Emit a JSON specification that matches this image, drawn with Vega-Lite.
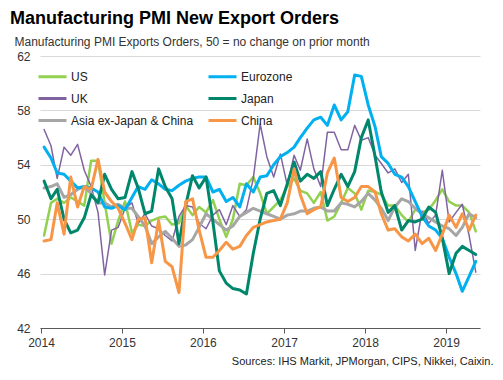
{
  "$schema": "https://vega.github.io/schema/vega-lite/v6.json",
  "width": 440,
  "height": 272,
  "autosize": {"type": "none"},
  "padding": {"left": 40, "top": 56, "right": 23, "bottom": 52},
  "config": {"font": "Liberation Sans", "view": {"stroke": null}},
  "title": {"text": "Manufacturing PMI New Export Orders", "anchor": "start", "frame": "group", "fontSize": 18, "fontWeight": "bold", "color": "#000000", "dx": -30, "dy": 19, "offset": 12, "baseline": "alphabetic"},
  "data": {"values": [
{"d":"2014-01-15","s":"US","v":48.8},{"d":"2014-02-15","s":"US","v":51.2},{"d":"2014-03-15","s":"US","v":51.5},{"d":"2014-04-15","s":"US","v":51.2},{"d":"2014-05-15","s":"US","v":51.6},{"d":"2014-06-15","s":"US","v":51.3},{"d":"2014-07-15","s":"US","v":51.0},{"d":"2014-08-15","s":"US","v":54.3},{"d":"2014-09-15","s":"US","v":54.3},{"d":"2014-10-15","s":"US","v":51.2},{"d":"2014-11-15","s":"US","v":48.2},{"d":"2014-12-15","s":"US","v":49.9},
{"d":"2015-01-15","s":"US","v":51.3},{"d":"2015-02-15","s":"US","v":49.0},{"d":"2015-03-15","s":"US","v":49.6},{"d":"2015-04-15","s":"US","v":49.5},{"d":"2015-05-15","s":"US","v":49.9},{"d":"2015-06-15","s":"US","v":50.1},{"d":"2015-07-15","s":"US","v":50.2},{"d":"2015-08-15","s":"US","v":49.6},{"d":"2015-09-15","s":"US","v":49.7},{"d":"2015-10-15","s":"US","v":51.0},{"d":"2015-11-15","s":"US","v":50.3},{"d":"2015-12-15","s":"US","v":50.9},
{"d":"2016-01-15","s":"US","v":50.5},{"d":"2016-02-15","s":"US","v":51.4},{"d":"2016-03-15","s":"US","v":50.0},{"d":"2016-04-15","s":"US","v":48.7},{"d":"2016-05-15","s":"US","v":50.0},{"d":"2016-06-15","s":"US","v":52.6},{"d":"2016-07-15","s":"US","v":52.5},{"d":"2016-08-15","s":"US","v":53.1},{"d":"2016-09-15","s":"US","v":51.9},{"d":"2016-10-15","s":"US","v":50.4},{"d":"2016-11-15","s":"US","v":50.9},{"d":"2016-12-15","s":"US","v":51.4},
{"d":"2017-01-15","s":"US","v":52.4},{"d":"2017-02-15","s":"US","v":53.0},{"d":"2017-03-15","s":"US","v":52.1},{"d":"2017-04-15","s":"US","v":51.9},{"d":"2017-05-15","s":"US","v":51.2},{"d":"2017-06-15","s":"US","v":52.0},{"d":"2017-07-15","s":"US","v":49.9},{"d":"2017-08-15","s":"US","v":50.2},{"d":"2017-09-15","s":"US","v":51.2},{"d":"2017-10-15","s":"US","v":52.3},{"d":"2017-11-15","s":"US","v":51.9},{"d":"2017-12-15","s":"US","v":50.7},
{"d":"2018-01-15","s":"US","v":52.1},{"d":"2018-02-15","s":"US","v":52.0},{"d":"2018-03-15","s":"US","v":51.8},{"d":"2018-04-15","s":"US","v":51.0},{"d":"2018-05-15","s":"US","v":51.0},{"d":"2018-06-15","s":"US","v":50.3},{"d":"2018-07-15","s":"US","v":49.8},{"d":"2018-08-15","s":"US","v":50.7},{"d":"2018-09-15","s":"US","v":50.5},{"d":"2018-10-15","s":"US","v":50.7},{"d":"2018-11-15","s":"US","v":51.4},{"d":"2018-12-15","s":"US","v":52.2},
{"d":"2019-01-15","s":"US","v":51.3},{"d":"2019-02-15","s":"US","v":51.0},{"d":"2019-03-15","s":"US","v":51.0},{"d":"2019-04-15","s":"US","v":50.5},{"d":"2019-05-15","s":"US","v":49.1},
{"d":"2014-01-15","s":"UK","v":56.6},{"d":"2014-02-15","s":"UK","v":55.4},{"d":"2014-03-15","s":"UK","v":53.0},{"d":"2014-04-15","s":"UK","v":55.3},{"d":"2014-05-15","s":"UK","v":54.7},{"d":"2014-06-15","s":"UK","v":55.5},{"d":"2014-07-15","s":"UK","v":53.6},{"d":"2014-08-15","s":"UK","v":52.4},{"d":"2014-09-15","s":"UK","v":50.5},{"d":"2014-10-15","s":"UK","v":45.9},{"d":"2014-11-15","s":"UK","v":49.2},{"d":"2014-12-15","s":"UK","v":49.4},
{"d":"2015-01-15","s":"UK","v":50.8},{"d":"2015-02-15","s":"UK","v":51.2},{"d":"2015-03-15","s":"UK","v":49.7},{"d":"2015-04-15","s":"UK","v":50.4},{"d":"2015-05-15","s":"UK","v":49.5},{"d":"2015-06-15","s":"UK","v":49.3},{"d":"2015-07-15","s":"UK","v":48.8},{"d":"2015-08-15","s":"UK","v":48.4},{"d":"2015-09-15","s":"UK","v":50.2},{"d":"2015-10-15","s":"UK","v":51.0},{"d":"2015-11-15","s":"UK","v":50.9},{"d":"2015-12-15","s":"UK","v":49.7},
{"d":"2016-01-15","s":"UK","v":49.3},{"d":"2016-02-15","s":"UK","v":50.3},{"d":"2016-03-15","s":"UK","v":50.7},{"d":"2016-04-15","s":"UK","v":49.6},{"d":"2016-05-15","s":"UK","v":51.0},{"d":"2016-06-15","s":"UK","v":50.2},{"d":"2016-07-15","s":"UK","v":50.7},{"d":"2016-08-15","s":"UK","v":53.0},{"d":"2016-09-15","s":"UK","v":57.0},{"d":"2016-10-15","s":"UK","v":54.6},{"d":"2016-11-15","s":"UK","v":53.1},{"d":"2016-12-15","s":"UK","v":54.8},
{"d":"2017-01-15","s":"UK","v":52.5},{"d":"2017-02-15","s":"UK","v":54.7},{"d":"2017-03-15","s":"UK","v":53.6},{"d":"2017-04-15","s":"UK","v":55.9},{"d":"2017-05-15","s":"UK","v":53.7},{"d":"2017-06-15","s":"UK","v":52.4},{"d":"2017-07-15","s":"UK","v":56.4},{"d":"2017-08-15","s":"UK","v":56.4},{"d":"2017-09-15","s":"UK","v":55.1},{"d":"2017-10-15","s":"UK","v":55.1},{"d":"2017-11-15","s":"UK","v":56.9},{"d":"2017-12-15","s":"UK","v":55.8},
{"d":"2018-01-15","s":"UK","v":56.0},{"d":"2018-02-15","s":"UK","v":54.7},{"d":"2018-03-15","s":"UK","v":54.1},{"d":"2018-04-15","s":"UK","v":53.4},{"d":"2018-05-15","s":"UK","v":53.7},{"d":"2018-06-15","s":"UK","v":52.7},{"d":"2018-07-15","s":"UK","v":53.3},{"d":"2018-08-15","s":"UK","v":47.7},{"d":"2018-09-15","s":"UK","v":50.6},{"d":"2018-10-15","s":"UK","v":49.7},{"d":"2018-11-15","s":"UK","v":50.3},{"d":"2018-12-15","s":"UK","v":53.6},
{"d":"2019-01-15","s":"UK","v":49.8},{"d":"2019-02-15","s":"UK","v":50.5},{"d":"2019-03-15","s":"UK","v":51.1},{"d":"2019-04-15","s":"UK","v":48.8},{"d":"2019-05-15","s":"UK","v":46.1},
{"d":"2014-01-15","s":"Asia ex-Japan & China","v":52.3},{"d":"2014-02-15","s":"Asia ex-Japan & China","v":52.4},{"d":"2014-03-15","s":"Asia ex-Japan & China","v":52.6},{"d":"2014-04-15","s":"Asia ex-Japan & China","v":51.6},{"d":"2014-05-15","s":"Asia ex-Japan & China","v":51.8},{"d":"2014-06-15","s":"Asia ex-Japan & China","v":52.2},{"d":"2014-07-15","s":"Asia ex-Japan & China","v":52.4},{"d":"2014-08-15","s":"Asia ex-Japan & China","v":51.9},{"d":"2014-09-15","s":"Asia ex-Japan & China","v":51.2},{"d":"2014-10-15","s":"Asia ex-Japan & China","v":51.2},{"d":"2014-11-15","s":"Asia ex-Japan & China","v":50.9},{"d":"2014-12-15","s":"Asia ex-Japan & China","v":51.1},
{"d":"2015-01-15","s":"Asia ex-Japan & China","v":50.8},{"d":"2015-02-15","s":"Asia ex-Japan & China","v":50.8},{"d":"2015-03-15","s":"Asia ex-Japan & China","v":50.2},{"d":"2015-04-15","s":"Asia ex-Japan & China","v":49.5},{"d":"2015-05-15","s":"Asia ex-Japan & China","v":48.2},{"d":"2015-06-15","s":"Asia ex-Japan & China","v":48.7},{"d":"2015-07-15","s":"Asia ex-Japan & China","v":49.1},{"d":"2015-08-15","s":"Asia ex-Japan & China","v":48.6},{"d":"2015-09-15","s":"Asia ex-Japan & China","v":48.0},{"d":"2015-10-15","s":"Asia ex-Japan & China","v":48.1},{"d":"2015-11-15","s":"Asia ex-Japan & China","v":48.5},{"d":"2015-12-15","s":"Asia ex-Japan & China","v":49.4},
{"d":"2016-01-15","s":"Asia ex-Japan & China","v":50.4},{"d":"2016-02-15","s":"Asia ex-Japan & China","v":50.0},{"d":"2016-03-15","s":"Asia ex-Japan & China","v":49.6},{"d":"2016-04-15","s":"Asia ex-Japan & China","v":49.2},{"d":"2016-05-15","s":"Asia ex-Japan & China","v":49.5},{"d":"2016-06-15","s":"Asia ex-Japan & China","v":50.2},{"d":"2016-07-15","s":"Asia ex-Japan & China","v":50.5},{"d":"2016-08-15","s":"Asia ex-Japan & China","v":50.8},{"d":"2016-09-15","s":"Asia ex-Japan & China","v":50.6},{"d":"2016-10-15","s":"Asia ex-Japan & China","v":50.4},{"d":"2016-11-15","s":"Asia ex-Japan & China","v":50.2},{"d":"2016-12-15","s":"Asia ex-Japan & China","v":50.0},
{"d":"2017-01-15","s":"Asia ex-Japan & China","v":50.3},{"d":"2017-02-15","s":"Asia ex-Japan & China","v":50.4},{"d":"2017-03-15","s":"Asia ex-Japan & China","v":50.6},{"d":"2017-04-15","s":"Asia ex-Japan & China","v":50.6},{"d":"2017-05-15","s":"Asia ex-Japan & China","v":50.8},{"d":"2017-06-15","s":"Asia ex-Japan & China","v":50.9},{"d":"2017-07-15","s":"Asia ex-Japan & China","v":50.6},{"d":"2017-08-15","s":"Asia ex-Japan & China","v":50.6},{"d":"2017-09-15","s":"Asia ex-Japan & China","v":51.2},{"d":"2017-10-15","s":"Asia ex-Japan & China","v":51.1},{"d":"2017-11-15","s":"Asia ex-Japan & China","v":50.9},{"d":"2017-12-15","s":"Asia ex-Japan & China","v":51.3},
{"d":"2018-01-15","s":"Asia ex-Japan & China","v":51.9},{"d":"2018-02-15","s":"Asia ex-Japan & China","v":51.4},{"d":"2018-03-15","s":"Asia ex-Japan & China","v":50.8},{"d":"2018-04-15","s":"Asia ex-Japan & China","v":49.9},{"d":"2018-05-15","s":"Asia ex-Japan & China","v":50.9},{"d":"2018-06-15","s":"Asia ex-Japan & China","v":51.5},{"d":"2018-07-15","s":"Asia ex-Japan & China","v":51.3},{"d":"2018-08-15","s":"Asia ex-Japan & China","v":50.8},{"d":"2018-09-15","s":"Asia ex-Japan & China","v":50.4},{"d":"2018-10-15","s":"Asia ex-Japan & China","v":50.1},{"d":"2018-11-15","s":"Asia ex-Japan & China","v":49.8},{"d":"2018-12-15","s":"Asia ex-Japan & China","v":49.5},
{"d":"2019-01-15","s":"Asia ex-Japan & China","v":49.3},{"d":"2019-02-15","s":"Asia ex-Japan & China","v":48.8},{"d":"2019-03-15","s":"Asia ex-Japan & China","v":49.4},{"d":"2019-04-15","s":"Asia ex-Japan & China","v":50.4},{"d":"2019-05-15","s":"Asia ex-Japan & China","v":50.1},
{"d":"2014-01-15","s":"Eurozone","v":55.3},{"d":"2014-02-15","s":"Eurozone","v":54.5},{"d":"2014-03-15","s":"Eurozone","v":53.4},{"d":"2014-04-15","s":"Eurozone","v":53.3},{"d":"2014-05-15","s":"Eurozone","v":52.8},{"d":"2014-06-15","s":"Eurozone","v":52.3},{"d":"2014-07-15","s":"Eurozone","v":52.4},{"d":"2014-08-15","s":"Eurozone","v":52.3},{"d":"2014-09-15","s":"Eurozone","v":52.0},{"d":"2014-10-15","s":"Eurozone","v":50.9},{"d":"2014-11-15","s":"Eurozone","v":50.8},{"d":"2014-12-15","s":"Eurozone","v":51.0},
{"d":"2015-01-15","s":"Eurozone","v":50.7},{"d":"2015-02-15","s":"Eurozone","v":51.6},{"d":"2015-03-15","s":"Eurozone","v":52.4},{"d":"2015-04-15","s":"Eurozone","v":52.2},{"d":"2015-05-15","s":"Eurozone","v":52.9},{"d":"2015-06-15","s":"Eurozone","v":52.6},{"d":"2015-07-15","s":"Eurozone","v":52.2},{"d":"2015-08-15","s":"Eurozone","v":52.1},{"d":"2015-09-15","s":"Eurozone","v":52.5},{"d":"2015-10-15","s":"Eurozone","v":52.8},{"d":"2015-11-15","s":"Eurozone","v":53.0},{"d":"2015-12-15","s":"Eurozone","v":53.1},
{"d":"2016-01-15","s":"Eurozone","v":53.1},{"d":"2016-02-15","s":"Eurozone","v":52.0},{"d":"2016-03-15","s":"Eurozone","v":52.2},{"d":"2016-04-15","s":"Eurozone","v":51.3},{"d":"2016-05-15","s":"Eurozone","v":51.6},{"d":"2016-06-15","s":"Eurozone","v":50.9},{"d":"2016-07-15","s":"Eurozone","v":52.6},{"d":"2016-08-15","s":"Eurozone","v":52.0},{"d":"2016-09-15","s":"Eurozone","v":53.1},{"d":"2016-10-15","s":"Eurozone","v":53.2},{"d":"2016-11-15","s":"Eurozone","v":54.0},{"d":"2016-12-15","s":"Eurozone","v":54.6},
{"d":"2017-01-15","s":"Eurozone","v":54.9},{"d":"2017-02-15","s":"Eurozone","v":55.3},{"d":"2017-03-15","s":"Eurozone","v":56.0},{"d":"2017-04-15","s":"Eurozone","v":56.7},{"d":"2017-05-15","s":"Eurozone","v":57.3},{"d":"2017-06-15","s":"Eurozone","v":57.5},{"d":"2017-07-15","s":"Eurozone","v":56.9},{"d":"2017-08-15","s":"Eurozone","v":58.4},{"d":"2017-09-15","s":"Eurozone","v":57.3},{"d":"2017-10-15","s":"Eurozone","v":57.9},{"d":"2017-11-15","s":"Eurozone","v":60.6},{"d":"2017-12-15","s":"Eurozone","v":60.5},
{"d":"2018-01-15","s":"Eurozone","v":58.4},{"d":"2018-02-15","s":"Eurozone","v":56.8},{"d":"2018-03-15","s":"Eurozone","v":54.6},{"d":"2018-04-15","s":"Eurozone","v":54.1},{"d":"2018-05-15","s":"Eurozone","v":53.3},{"d":"2018-06-15","s":"Eurozone","v":53.1},{"d":"2018-07-15","s":"Eurozone","v":52.4},{"d":"2018-08-15","s":"Eurozone","v":51.3},{"d":"2018-09-15","s":"Eurozone","v":50.2},{"d":"2018-10-15","s":"Eurozone","v":49.5},{"d":"2018-11-15","s":"Eurozone","v":49.2},{"d":"2018-12-15","s":"Eurozone","v":48.6},
{"d":"2019-01-15","s":"Eurozone","v":47.2},{"d":"2019-02-15","s":"Eurozone","v":46.0},{"d":"2019-03-15","s":"Eurozone","v":44.7},{"d":"2019-04-15","s":"Eurozone","v":45.8},{"d":"2019-05-15","s":"Eurozone","v":46.9},
{"d":"2014-01-15","s":"Japan","v":52.8},{"d":"2014-02-15","s":"Japan","v":51.5},{"d":"2014-03-15","s":"Japan","v":52.2},{"d":"2014-04-15","s":"Japan","v":50.0},{"d":"2014-05-15","s":"Japan","v":49.0},{"d":"2014-06-15","s":"Japan","v":49.2},{"d":"2014-07-15","s":"Japan","v":50.1},{"d":"2014-08-15","s":"Japan","v":51.8},{"d":"2014-09-15","s":"Japan","v":51.2},{"d":"2014-10-15","s":"Japan","v":53.3},{"d":"2014-11-15","s":"Japan","v":52.2},{"d":"2014-12-15","s":"Japan","v":51.5},
{"d":"2015-01-15","s":"Japan","v":51.6},{"d":"2015-02-15","s":"Japan","v":53.5},{"d":"2015-03-15","s":"Japan","v":52.3},{"d":"2015-04-15","s":"Japan","v":50.4},{"d":"2015-05-15","s":"Japan","v":50.6},{"d":"2015-06-15","s":"Japan","v":53.7},{"d":"2015-07-15","s":"Japan","v":52.4},{"d":"2015-08-15","s":"Japan","v":51.5},{"d":"2015-09-15","s":"Japan","v":48.2},{"d":"2015-10-15","s":"Japan","v":51.0},{"d":"2015-11-15","s":"Japan","v":53.2},{"d":"2015-12-15","s":"Japan","v":52.3},
{"d":"2016-01-15","s":"Japan","v":53.1},{"d":"2016-02-15","s":"Japan","v":49.8},{"d":"2016-03-15","s":"Japan","v":46.2},{"d":"2016-04-15","s":"Japan","v":45.3},{"d":"2016-05-15","s":"Japan","v":44.9},{"d":"2016-06-15","s":"Japan","v":44.8},{"d":"2016-07-15","s":"Japan","v":44.5},{"d":"2016-08-15","s":"Japan","v":47.5},{"d":"2016-09-15","s":"Japan","v":50.0},{"d":"2016-10-15","s":"Japan","v":51.9},{"d":"2016-11-15","s":"Japan","v":52.1},{"d":"2016-12-15","s":"Japan","v":51.0},
{"d":"2017-01-15","s":"Japan","v":52.6},{"d":"2017-02-15","s":"Japan","v":54.2},{"d":"2017-03-15","s":"Japan","v":52.8},{"d":"2017-04-15","s":"Japan","v":53.3},{"d":"2017-05-15","s":"Japan","v":53.0},{"d":"2017-06-15","s":"Japan","v":53.5},{"d":"2017-07-15","s":"Japan","v":51.0},{"d":"2017-08-15","s":"Japan","v":52.2},{"d":"2017-09-15","s":"Japan","v":53.3},{"d":"2017-10-15","s":"Japan","v":52.4},{"d":"2017-11-15","s":"Japan","v":53.5},{"d":"2017-12-15","s":"Japan","v":56.0},
{"d":"2018-01-15","s":"Japan","v":57.3},{"d":"2018-02-15","s":"Japan","v":54.6},{"d":"2018-03-15","s":"Japan","v":52.0},{"d":"2018-04-15","s":"Japan","v":50.5},{"d":"2018-05-15","s":"Japan","v":51.0},{"d":"2018-06-15","s":"Japan","v":49.2},{"d":"2018-07-15","s":"Japan","v":49.9},{"d":"2018-08-15","s":"Japan","v":49.8},{"d":"2018-09-15","s":"Japan","v":50.0},{"d":"2018-10-15","s":"Japan","v":50.9},{"d":"2018-11-15","s":"Japan","v":50.5},{"d":"2018-12-15","s":"Japan","v":48.6},
{"d":"2019-01-15","s":"Japan","v":46.0},{"d":"2019-02-15","s":"Japan","v":47.5},{"d":"2019-03-15","s":"Japan","v":48.0},{"d":"2019-04-15","s":"Japan","v":47.7},{"d":"2019-05-15","s":"Japan","v":47.4},
{"d":"2014-01-15","s":"China","v":48.4},{"d":"2014-02-15","s":"China","v":48.5},{"d":"2014-03-15","s":"China","v":51.2},{"d":"2014-04-15","s":"China","v":48.9},{"d":"2014-05-15","s":"China","v":53.1},{"d":"2014-06-15","s":"China","v":50.9},{"d":"2014-07-15","s":"China","v":52.4},{"d":"2014-08-15","s":"China","v":52.2},{"d":"2014-09-15","s":"China","v":54.4},{"d":"2014-10-15","s":"China","v":52.0},{"d":"2014-11-15","s":"China","v":51.3},{"d":"2014-12-15","s":"China","v":50.8},
{"d":"2015-01-15","s":"China","v":49.7},{"d":"2015-02-15","s":"China","v":48.5},{"d":"2015-03-15","s":"China","v":50.0},{"d":"2015-04-15","s":"China","v":50.1},{"d":"2015-05-15","s":"China","v":46.8},{"d":"2015-06-15","s":"China","v":49.9},{"d":"2015-07-15","s":"China","v":46.9},{"d":"2015-08-15","s":"China","v":46.5},{"d":"2015-09-15","s":"China","v":44.6},{"d":"2015-10-15","s":"China","v":51.3},{"d":"2015-11-15","s":"China","v":51.5},{"d":"2015-12-15","s":"China","v":49.2},
{"d":"2016-01-15","s":"China","v":47.2},{"d":"2016-02-15","s":"China","v":47.2},{"d":"2016-03-15","s":"China","v":47.7},{"d":"2016-04-15","s":"China","v":48.3},{"d":"2016-05-15","s":"China","v":47.8},{"d":"2016-06-15","s":"China","v":48.0},{"d":"2016-07-15","s":"China","v":48.8},{"d":"2016-08-15","s":"China","v":49.4},{"d":"2016-09-15","s":"China","v":49.6},{"d":"2016-10-15","s":"China","v":49.8},{"d":"2016-11-15","s":"China","v":49.9},{"d":"2016-12-15","s":"China","v":50.0},
{"d":"2017-01-15","s":"China","v":51.2},{"d":"2017-02-15","s":"China","v":53.7},{"d":"2017-03-15","s":"China","v":51.8},{"d":"2017-04-15","s":"China","v":50.4},{"d":"2017-05-15","s":"China","v":50.7},{"d":"2017-06-15","s":"China","v":50.9},{"d":"2017-07-15","s":"China","v":53.4},{"d":"2017-08-15","s":"China","v":54.5},{"d":"2017-09-15","s":"China","v":51.6},{"d":"2017-10-15","s":"China","v":51.3},{"d":"2017-11-15","s":"China","v":51.6},{"d":"2017-12-15","s":"China","v":52.4},
{"d":"2018-01-15","s":"China","v":52.4},{"d":"2018-02-15","s":"China","v":52.0},{"d":"2018-03-15","s":"China","v":50.4},{"d":"2018-04-15","s":"China","v":49.2},{"d":"2018-05-15","s":"China","v":49.3},{"d":"2018-06-15","s":"China","v":48.7},{"d":"2018-07-15","s":"China","v":48.4},{"d":"2018-08-15","s":"China","v":48.9},{"d":"2018-09-15","s":"China","v":48.2},{"d":"2018-10-15","s":"China","v":48.6},{"d":"2018-11-15","s":"China","v":47.7},{"d":"2018-12-15","s":"China","v":48.9},
{"d":"2019-01-15","s":"China","v":50.3},{"d":"2019-02-15","s":"China","v":49.4},{"d":"2019-03-15","s":"China","v":50.4},{"d":"2019-04-15","s":"China","v":49.2},{"d":"2019-05-15","s":"China","v":50.3}
  ]},
  "mark": {"type": "line", "strokeJoin": "round", "strokeCap": "round"},
  "encoding": {
    "x": {
      "field": "d", "type": "temporal",
      "scale": {"type": "utc", "domain": [{"year": 2013, "month": 12, "date": 27, "hours": 12, "utc": true}, {"year": 2019, "month": 6, "date": 3, "utc": true}]},
      "axis": {
        "format": "%Y", "tickCount": {"interval": "year", "step": 1}, "grid": false, "labelFlush": false,
        "domainColor": "#595959", "tickColor": "#595959", "tickSize": 5, "labelPadding": 4,
        "labelFontSize": 12, "labelColor": "#333333",
        "title": "Sources: IHS Markit, JPMorgan, CIPS, Nikkei, Caixin.",
        "titleFontSize": 11, "titleFontWeight": "normal", "titleColor": "#222222",
        "titleAlign": "right", "titleBaseline": "middle", "titleX": 453, "titleY": 33
      }
    },
    "y": {
      "field": "v", "type": "quantitative",
      "scale": {"domain": [42, 62], "nice": false, "zero": false},
      "axis": {
        "values": [42, 46, 50, 54, 58, 62], "domain": false, "ticks": false, "labelPadding": 10,
        "gridColor": "#d9d9d9", "labelFontSize": 12, "labelColor": "#333333",
        "title": "Manufacturing PMI Exports Orders, 50 = no change on prior month",
        "titleAngle": 0, "titleAlign": "left", "titleBaseline": "middle", "titleX": -26, "titleY": -15,
        "titleFontSize": 12, "titleFontWeight": "normal", "titleColor": "#333333"
      }
    },
    "color": {
      "field": "s", "type": "nominal",
      "scale": {
        "domain": ["US", "UK", "Asia ex-Japan & China", "Eurozone", "Japan", "China"],
        "range": ["#92D050", "#8064A2", "#A6A6A6", "#00B0F0", "#00876B", "#F79646"]
      },
      "legend": {
        "title": null, "orient": "none", "legendX": -3, "legendY": 5, "columns": 2,
        "symbolType": "stroke", "symbolSize": 784, "symbolStrokeWidth": 3,
        "labelFontSize": 12, "labelColor": "#222222", "labelOffset": 3,
        "columnPadding": 8, "rowPadding": -7
      }
    },
    "strokeWidth": {
      "condition": [{"test": "datum.s === 'UK'", "value": 1.5}, {"test": "datum.s === 'US'", "value": 2.5}],
      "value": 3
    }
  }
}
